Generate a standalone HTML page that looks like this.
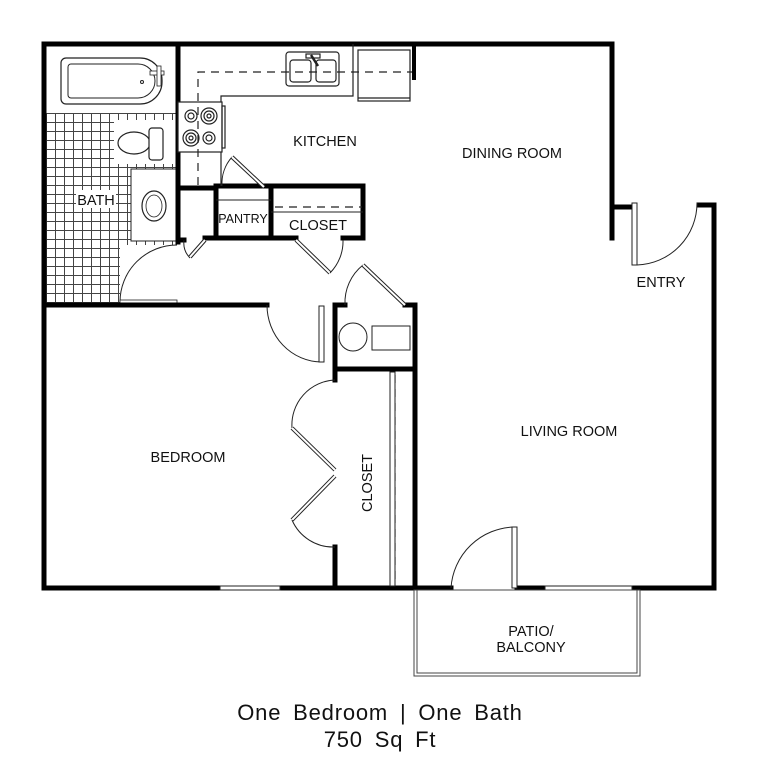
<!DOCTYPE html>
<html><head><meta charset="utf-8"><style>
html,body{margin:0;padding:0;background:#fff;}
svg{display:block;}
text{font-family:"Liberation Sans",sans-serif;fill:#111;}
</style></head><body>
<svg width="761" height="768" viewBox="0 0 761 768" xmlns="http://www.w3.org/2000/svg">
<defs>
<pattern id="tile" x="46" y="113" width="9" height="9" patternUnits="userSpaceOnUse">
<path d="M0 0.5H9M0.5 0V9" stroke="#444" stroke-width="1" fill="none"/>
</pattern>
</defs>
<rect width="761" height="768" fill="#fff"/>
<!-- tile floor -->
<rect x="46" y="113" width="131" height="191" fill="url(#tile)"/>
<!-- tub -->
<rect x="58" y="56" width="104" height="52" fill="#fff"/>
<path d="M66 58 H140 A22 22 0 0 1 162 80 V82 A22 22 0 0 1 140 104 H66 A5 5 0 0 1 61 99 V63 A5 5 0 0 1 66 58Z" fill="#fff" stroke="#222" stroke-width="1.2"/>
<path d="M71 64 H138 A17 17 0 0 1 155 81 A17 17 0 0 1 138 98 H71 A3 3 0 0 1 68 95 V67 A3 3 0 0 1 71 64Z" fill="none" stroke="#222" stroke-width="1"/>
<rect x="150" y="71" width="14" height="4" fill="#fff" stroke="#222" stroke-width="0.8"/>
<rect x="157" y="66" width="4" height="20" fill="#fff" stroke="#222" stroke-width="0.8"/>
<circle cx="142" cy="82" r="1.5" fill="none" stroke="#222"/>
<!-- toilet -->
<rect x="114" y="120" width="64" height="44" fill="#fff"/>
<ellipse cx="134" cy="143" rx="16" ry="11" fill="#fff" stroke="#222" stroke-width="1.2"/>
<rect x="149" y="128" width="14" height="32" rx="3" fill="#fff" stroke="#222" stroke-width="1.2"/>
<!-- vanity -->
<rect x="131" y="169" width="46" height="72" fill="#fff" stroke="#222" stroke-width="1"/>
<ellipse cx="154" cy="206" rx="12" ry="15" fill="none" stroke="#222" stroke-width="1.2"/>
<ellipse cx="154" cy="206" rx="8" ry="11" fill="none" stroke="#222" stroke-width="0.8"/>
<!-- bath door -->
<rect x="120" y="245" width="57" height="58" fill="#fff"/>
<path d="M177 245 A57 57 0 0 0 120 302" fill="none" stroke="#222" stroke-width="1"/>
<rect x="120" y="300" width="57" height="3" fill="#fff" stroke="#222" stroke-width="0.8"/>

<!-- walls thick -->
<g stroke="#000" stroke-width="5" fill="none" stroke-linecap="square">
<path d="M44 44 H612 V207 H632"/>
<path d="M612 207 V238"/>
<path d="M699 205 H714 V588"/>
<path d="M44 44 V588 H220"/>
<path d="M280 588 H451"/>
<path d="M517 588 H545"/>
<path d="M632 588 H714"/>
<path d="M178 44 V242"/>
<path d="M44 305 H267"/>
<path d="M335 305 H345"/>
<path d="M405 305 H415 V588"/>
<path d="M335 305 V380"/>
<path d="M335 547 V588"/>
<path d="M335 369 H415"/>
<path d="M178 188 H216"/>
<path d="M216 186 H363 V238 H343"/>
<path d="M296 238 H205"/>
<path d="M216 186 V238"/>
<path d="M271 186 V238"/>
<path d="M178 240 H184"/>
</g>
<path d="M414 44 V80" stroke="#000" stroke-width="4"/>
<!-- windows -->
<g fill="#fff" stroke="#222" stroke-width="1">
<rect x="220" y="586" width="60" height="4"/>
<rect x="545" y="586" width="87" height="4"/>
</g>
<!-- kitchen counters -->
<g stroke="#222" stroke-width="1.2" fill="none">
<path d="M221 186 V96 H353 V44"/>
<rect x="178" y="102" width="44" height="50" fill="#fff"/>
<rect x="222" y="106" width="3" height="42"/>
<circle cx="191" cy="116" r="6"/><circle cx="191" cy="116" r="3"/>
<circle cx="209" cy="116" r="8"/><circle cx="209" cy="116" r="5"/><circle cx="209" cy="116" r="2"/>
<circle cx="191" cy="138" r="8"/><circle cx="191" cy="138" r="5"/><circle cx="191" cy="138" r="2"/>
<circle cx="209" cy="138" r="6"/><circle cx="209" cy="138" r="3"/>
<rect x="286" y="52" width="53" height="34" rx="3" fill="#fff"/>
<rect x="290" y="60" width="21" height="22" rx="3"/>
<rect x="316" y="60" width="20" height="22" rx="3"/>
<rect x="306" y="54" width="14" height="4"/>
<path d="M311 55 L318 66" stroke-width="2.5"/>
<rect x="358" y="50" width="52" height="51" fill="#fff"/>
<path d="M358 98 H410"/>
</g>
<g stroke="#222" stroke-width="1.2" fill="none" stroke-dasharray="8,6">
<path d="M198 185 V72 H412"/>
<path d="M275 207 H362"/>
<path d="M395 375 V585"/>
</g>
<path d="M216 200 H271 M271 212 H363" stroke="#222" stroke-width="1"/>

<!-- doors -->
<g stroke="#222" stroke-width="1" fill="none">
<path d="M232 157 A40 40 0 0 0 222 186"/>
<path d="M232 157 L264 187" stroke-width="4"/>
<path d="M232 157 L264 187" stroke="#fff" stroke-width="2"/>
<path d="M184 240 A22 22 0 0 0 190 258"/>
<path d="M205 240 L190 257" stroke-width="4"/>
<path d="M205 240 L190 257" stroke="#fff" stroke-width="2"/>
<path d="M296 240 L330 273" stroke-width="4"/>
<path d="M296 240 L330 273" stroke="#fff" stroke-width="2"/>
<path d="M330 273 A45 45 0 0 0 343 240"/>
<path d="M345 305 A48 48 0 0 1 363 265"/>
<path d="M363 265 L405 305" stroke-width="4"/>
<path d="M363 265 L405 305" stroke="#fff" stroke-width="2"/>
<path d="M267 305 A55 57 0 0 0 321 362"/>
<rect x="319" y="306" width="5" height="56" fill="#fff"/>
<path d="M335 380 A45 45 0 0 0 292 428"/>
<path d="M292 428 L335 470" stroke-width="4"/>
<path d="M292 428 L335 470" stroke="#fff" stroke-width="2"/>
<path d="M335 476 L292 520" stroke-width="4"/>
<path d="M335 476 L292 520" stroke="#fff" stroke-width="2"/>
<path d="M292 520 A45 45 0 0 0 335 547"/>
<rect x="390" y="372" width="5" height="214" fill="#fff"/>
<rect x="632" y="203" width="5" height="62" fill="#fff"/>
<path d="M637 265 A62 62 0 0 0 697 203"/>
<path d="M451 588 A65 65 0 0 1 514 527"/>
<rect x="512" y="527" width="5" height="61" fill="#fff"/>
</g>
<!-- washer/dryer -->
<circle cx="353" cy="337" r="14" fill="none" stroke="#222" stroke-width="1"/>
<rect x="372" y="326" width="38" height="24" fill="none" stroke="#222" stroke-width="1"/>
<!-- patio -->
<rect x="414" y="590" width="226" height="86" fill="none" stroke="#444" stroke-width="1"/>
<rect x="417" y="590" width="220" height="83" fill="none" stroke="#444" stroke-width="1"/>

<!-- labels -->
<g font-size="14.5" text-anchor="middle">
<text x="325" y="146">KITCHEN</text>
<text x="512" y="158">DINING ROOM</text>
<rect x="76" y="190" width="40" height="18" fill="#fff"/>
<text x="96" y="205">BATH</text>
<text x="243" y="223" font-size="12.5">PANTRY</text>
<text x="318" y="230">CLOSET</text>
<text x="661" y="287">ENTRY</text>
<text x="569" y="436">LIVING ROOM</text>
<text x="188" y="462">BEDROOM</text>
<text x="531" y="636">PATIO/</text>
<text x="531" y="652">BALCONY</text>
<text transform="translate(372,483) rotate(-90)">CLOSET</text>
</g>
<g font-size="22" text-anchor="middle" letter-spacing="0.8" word-spacing="5">
<text x="380" y="720">One Bedroom | One Bath</text>
<text x="380" y="747">750 Sq Ft</text>
</g>
</svg>
</body></html>
